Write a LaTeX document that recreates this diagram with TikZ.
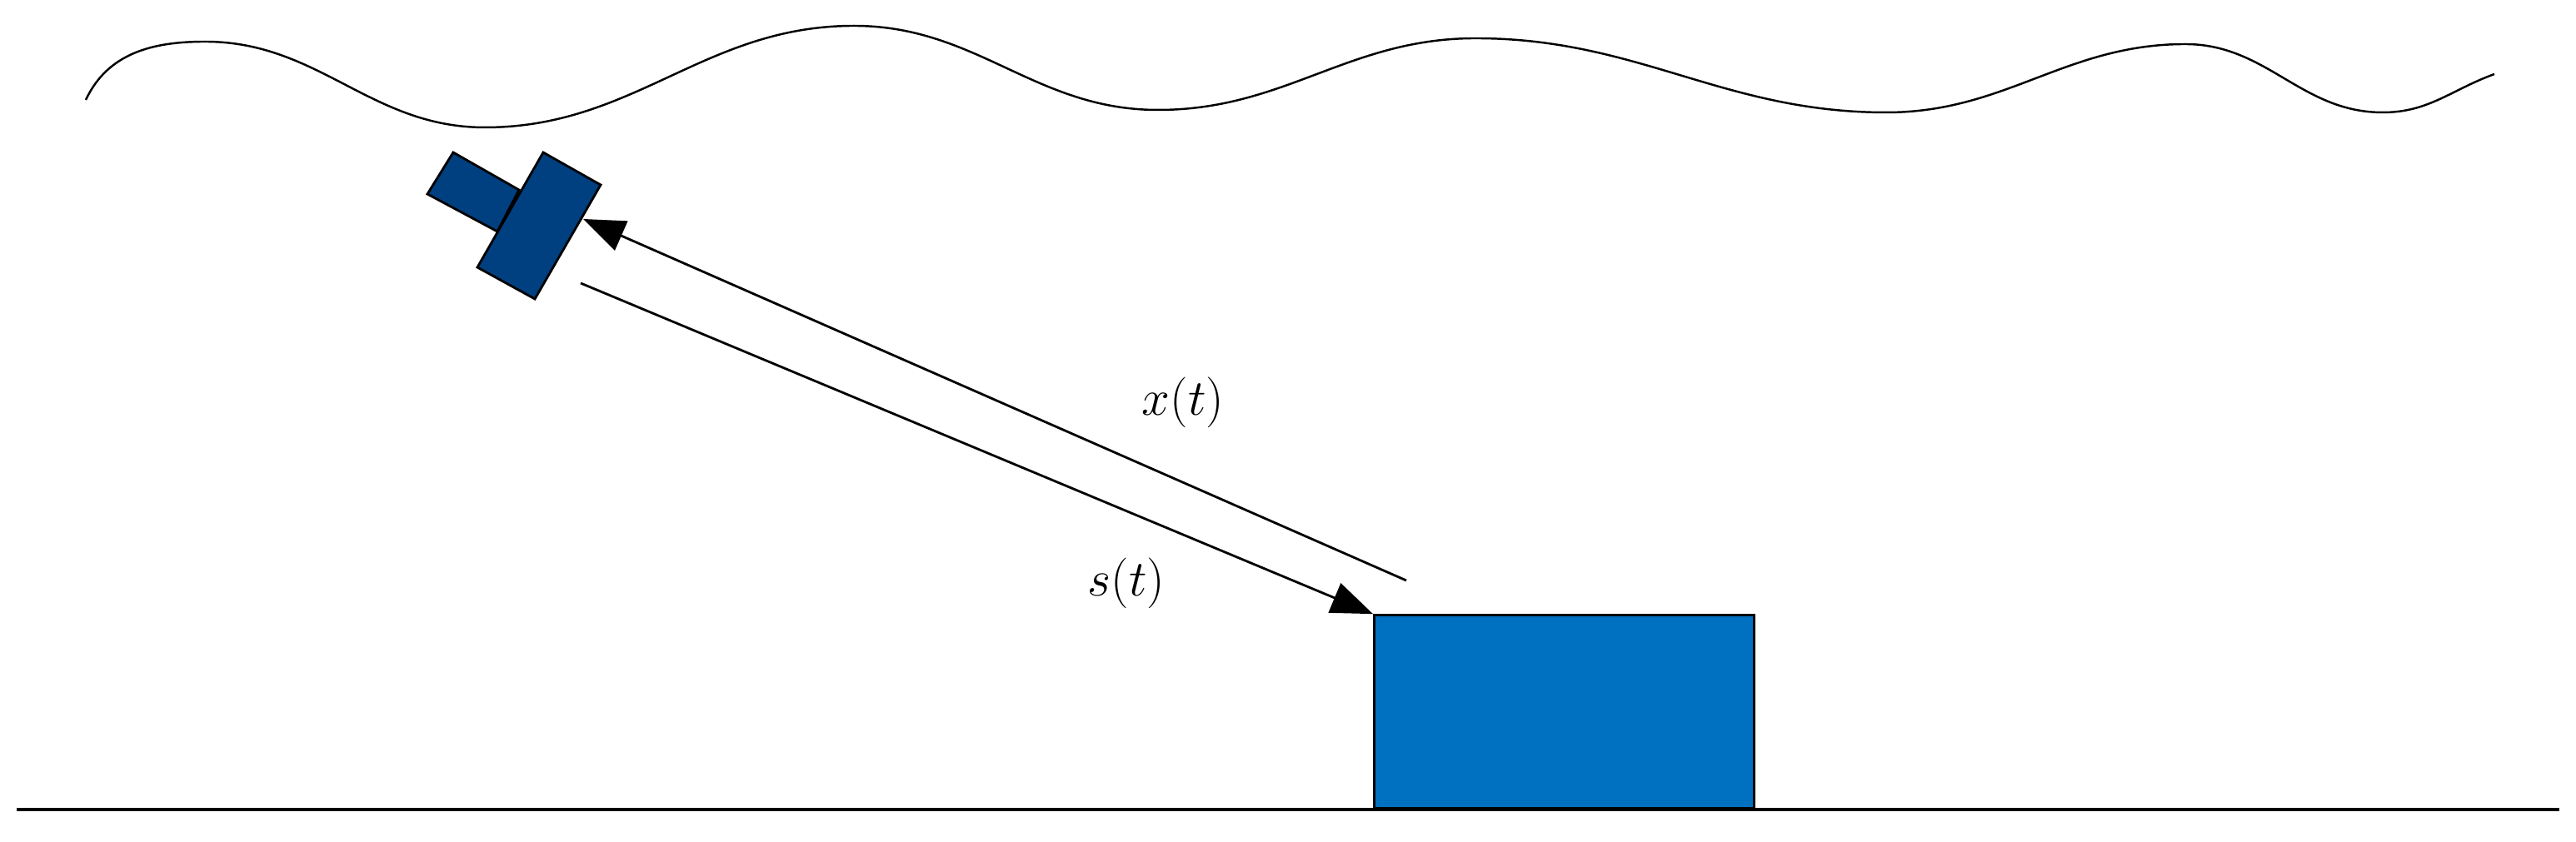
\documentclass[tikz,border=0pt]{standalone}
\usetikzlibrary{arrows.meta}
\definecolor{satblue}{RGB}{0,64,128}
\definecolor{boxblue}{RGB}{0,112,192}
\tikzset{
  sig/.style={line width=0.8pt,-{Triangle[length=5mm,width=3.8mm]}},
  lbl/.style={font=\fontsize{17}{20}\selectfont},
  satpart/.style={fill=satblue,draw=black,line width=0.8pt,line join=miter}
}
\begin{document}
\begin{tikzpicture}
\useasboundingbox (0,0) rectangle (30.92,10.11);
% sea surface
\draw[line width=0.7pt] (1.03,8.91) to[out=65,in=180] (2.46,9.61) to[out=0,in=180] (5.82,8.58)
  to[out=0,in=180] (10.25,9.80) to[out=0,in=180] (13.90,8.79) to[out=0,in=180] (17.71,9.65)
  to[out=0,in=180] (22.64,8.76) to[out=0,in=180] (26.23,9.58) to[out=0,in=180] (28.60,8.76)
  to[out=0,in=200] (29.94,9.22);
% ground
\draw[line width=0.9pt] (0.20,0.39) -- (30.72,0.39);
% satellite
\draw[satpart] (5.44,8.28) -- (6.23,7.83) -- (5.97,7.33) -- (5.13,7.78) -- cycle;
\draw[satpart] (6.52,8.28) -- (7.21,7.89) -- (6.42,6.52) -- (5.73,6.90) -- cycle;
% box
\node[draw=black,fill=boxblue,line width=0.8pt,minimum width=4.56cm,minimum height=2.32cm,inner sep=0pt,anchor=south west] (box) at (16.48,0.39) {};
\coordinate (xs) at (16.88,3.14);
\coordinate (xe) at (7.00,7.48);
\coordinate (ss) at (6.97,6.71);
\draw[sig] (xs) -- (xe);
\draw[sig] (ss) -- (box.north west);
\node[lbl] (xl) at (14.20,5.28) {$x(t)$};
\node[lbl] (sl) at (13.52,3.11) {$s(t)$};
\end{tikzpicture}
\end{document}
